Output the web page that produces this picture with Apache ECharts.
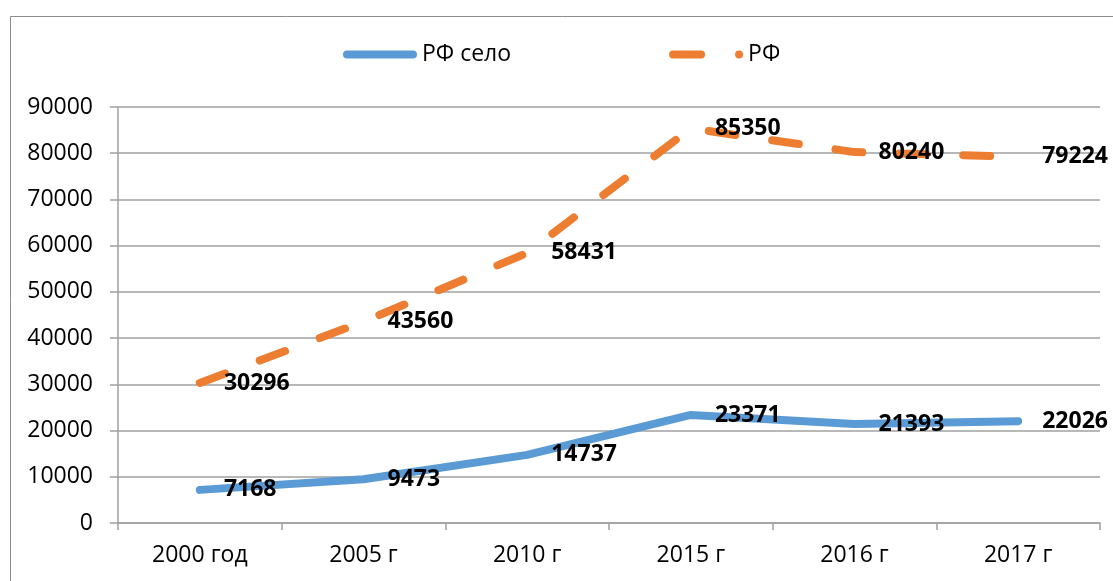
<!DOCTYPE html>
<html>
<head>
<meta charset="utf-8">
<script src="https://cdn.jsdelivr.net/npm/echarts@6/dist/echarts.min.js"></script>
<style>
  html, body { margin: 0; padding: 0; background: #fff; }
  #chart { width: 1113px; height: 581px; }
</style>
</head>
<body>
<div id="chart"></div>
<script>
// chart data
var years = ['2000 год', '2005 г', '2010 г', '2015 г', '2016 г', '2017 г']
var rfSelo = [7168, 9473, 14737, 23371, 21393, 22026]
var rf = [30296, 43560, 58431, 85350, 80240, 79224]

var font = '"Open Sans", "Liberation Sans", sans-serif'
var blue = '#5B9BD5'
var orange = '#ED7D31'
var gridColor = '#A0A0A0'

var chart = echarts.init(document.getElementById('chart'))

var dataLabel = {
  show: true,
  position: 'right',
  distance: 24,
  offset: [0, 1],
  color: '#000',
  fontFamily: font,
  fontWeight: 'bold',
  fontSize: 23
}

chart.setOption({
  animation: false,
  backgroundColor: '#fff',
  graphic: [{
    type: 'rect',
    left: 8,
    top: 14,
    shape: { width: 1200, height: 700 },
    style: { fill: 'none', stroke: '#8c8c8c', lineWidth: 1 },
    silent: true
  }],
  legend: {
    left: 338,
    top: 38,
    itemGap: 158,
    itemWidth: 74,
    itemHeight: 9,
    textStyle: { fontFamily: font, fontSize: 23, color: '#000' },
    data: [
      { name: 'РФ село', icon: 'path://M4,0 L70,0 A4,4 0 0 1 70,8 L4,8 A4,4 0 0 1 4,0 Z' },
      { name: 'РФ', icon: 'path://M4,0 L32,0 A4,4 0 0 1 32,8 L4,8 A4,4 0 0 1 4,0 Z M66,4 A4,4 0 1 1 74,4 A4,4 0 1 1 66,4 Z' }
    ]
  },
  grid: {
    left: 118,
    right: 13,
    top: 107,
    bottom: 58,
    containLabel: false
  },
  xAxis: {
    type: 'category',
    data: years,
    boundaryGap: true,
    axisLine: { show: true, lineStyle: { color: gridColor, width: 1.5 } },
    axisTick: { show: true, length: 7, inside: false, lineStyle: { color: gridColor, width: 1.5 } },
    axisLabel: { margin: 21, color: '#000', fontFamily: font, fontSize: 23 },
    splitLine: { show: false }
  },
  yAxis: {
    type: 'value',
    min: 0,
    max: 90000,
    interval: 10000,
    axisLine: { show: true, lineStyle: { color: gridColor, width: 1.5 } },
    axisTick: { show: true, length: 8, lineStyle: { color: gridColor, width: 1.5 } },
    axisLabel: {
      margin: 25, color: '#000', fontFamily: font, fontSize: 23,
      formatter: function (v) { return String(v) }
    },
    splitLine: { show: true, lineStyle: { color: gridColor, width: 1.5 } }
  },
  series: [
    {
      name: 'РФ село',
      type: 'line',
      data: rfSelo,
      showSymbol: true,
      symbol: 'circle',
      symbolSize: 0.1,
      color: blue,
      lineStyle: { color: blue, width: 8, cap: 'round', join: 'round' },
      label: dataLabel,
      labelLayout: { hideOverlap: false },
      z: 3
    },
    {
      name: 'РФ',
      type: 'line',
      data: rf,
      showSymbol: true,
      symbol: 'circle',
      symbolSize: 0.1,
      color: orange,
      lineStyle: { color: orange, width: 8, type: [27, 37], cap: 'round', join: 'round' },
      label: dataLabel,
      labelLayout: { hideOverlap: false },
      z: 3
    }
  ]
})
</script>
</body>
</html>
